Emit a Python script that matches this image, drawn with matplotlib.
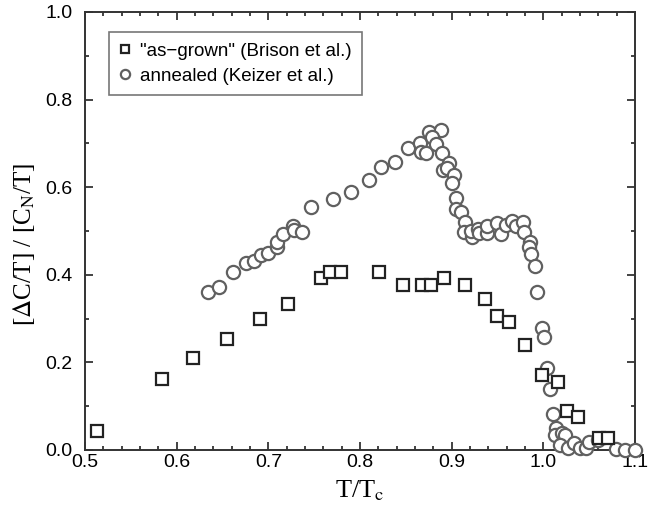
import matplotlib.pyplot as plt
from matplotlib.ticker import MultipleLocator

# as-grown sample (Brison et al.)
grown_t = [0.513, 0.584, 0.618, 0.655, 0.691, 0.722, 0.758, 0.767, 0.779, 0.821,
           0.847, 0.868, 0.878, 0.892, 0.914, 0.936, 0.950, 0.963, 0.980, 0.998,
           1.016, 1.026, 1.038, 1.061, 1.071]
grown_c = [0.043, 0.162, 0.210, 0.253, 0.299, 0.333, 0.393, 0.406, 0.406, 0.406,
           0.377, 0.377, 0.377, 0.393, 0.377, 0.345, 0.306, 0.292, 0.240, 0.171,
           0.155, 0.089, 0.075, 0.027, 0.027]

# annealed sample (Keizer et al.)
ann_t = [0.634, 0.646, 0.661, 0.676, 0.684, 0.692, 0.700, 0.709, 0.709, 0.716,
         0.727, 0.728, 0.737, 0.747, 0.770, 0.790, 0.810, 0.823, 0.838, 0.852,
         0.866, 0.867, 0.872, 0.875, 0.888, 0.879, 0.883, 0.889, 0.897, 0.891,
         0.895, 0.903, 0.900, 0.905, 0.905, 0.910, 0.914, 0.913, 0.922, 0.921,
         0.929, 0.930, 0.939, 0.939, 0.949, 0.954, 0.959, 0.966, 0.970, 0.978,
         0.979, 0.985, 0.984, 0.987, 0.991, 0.993, 0.999, 1.001, 1.004, 1.007,
         1.010, 1.014, 1.013, 1.020, 1.024, 1.018, 1.027, 1.033, 1.040, 1.047,
         1.050, 1.060, 1.079, 1.089, 1.100]
ann_c = [0.361, 0.372, 0.406, 0.427, 0.432, 0.445, 0.450, 0.463, 0.475, 0.493,
         0.511, 0.502, 0.498, 0.555, 0.573, 0.589, 0.616, 0.646, 0.658, 0.689,
         0.701, 0.680, 0.678, 0.726, 0.731, 0.715, 0.699, 0.678, 0.655, 0.639,
         0.644, 0.628, 0.610, 0.575, 0.550, 0.543, 0.521, 0.498, 0.486, 0.500,
         0.505, 0.495, 0.495, 0.511, 0.518, 0.493, 0.514, 0.523, 0.511, 0.521,
         0.498, 0.475, 0.463, 0.447, 0.420, 0.361, 0.279, 0.258, 0.187, 0.139,
         0.082, 0.050, 0.034, 0.039, 0.034, 0.011, 0.005, 0.016, 0.005, 0.005,
         0.018, 0.023, 0.002, 0.000, 0.000]

plt.rcParams['mathtext.fontset'] = 'stix'

fig = plt.figure(figsize=(6.49, 5.12), dpi=100)
ax = fig.add_axes([85 / 649, 62 / 512, 550 / 649, 438 / 512])

ax.plot(ann_t, ann_c, 'o', ms=9.5, mfc='white', mec='#606060', mew=1.6,
        label='annealed (Keizer et al.)', clip_on=False, zorder=3)
ax.plot(grown_t, grown_c, 's', ms=8, mfc='white', mec='#222222', mew=1.6,
        label='"as\u2212grown" (Brison et al.)', clip_on=False, zorder=4)

ax.set_xlim(0.5, 1.1)
ax.set_ylim(0.0, 1.0)
ax.xaxis.set_major_locator(MultipleLocator(0.1))
ax.xaxis.set_minor_locator(MultipleLocator(0.02))
ax.yaxis.set_major_locator(MultipleLocator(0.2))
ax.yaxis.set_minor_locator(MultipleLocator(0.1))
ax.xaxis.set_major_formatter(plt.FuncFormatter(lambda v, p: f'{v:.1f}'))
ax.yaxis.set_major_formatter(plt.FuncFormatter(lambda v, p: f'{v:.1f}'))

ax.tick_params(which='both', direction='in', top=True, right=True,
               color='#222222', width=1.2)
ax.tick_params(which='major', length=6, labelsize=14)
ax.tick_params(axis='x', which='major', pad=3)
ax.tick_params(axis='y', which='major', pad=9)
ax.tick_params(which='minor', length=3)
for lab in ax.get_xticklabels() + ax.get_yticklabels():
    lab.set_family('Liberation Sans')
for sp in ax.spines.values():
    sp.set_linewidth(1.4)
    sp.set_color('#333333')

ax.set_xlabel(r'T/T$_\mathrm{c}$', family='Liberation Serif', fontsize=19)
ax.set_ylabel(r'[$\Delta$C/T] / [C$_\mathrm{N}$/T]', family='Liberation Serif',
              fontsize=18)
ax.xaxis.set_label_coords(0.5, -0.065)
ax.yaxis.set_label_coords(-0.088, 0.47)

handles, labels = ax.get_legend_handles_labels()
leg = ax.legend(handles[::-1], labels[::-1], loc='upper left',
                bbox_to_anchor=(0.043, 0.954), borderaxespad=0,
                fancybox=False, framealpha=1, edgecolor='#777777',
                markerscale=0.7, handlelength=0.6, handletextpad=0.5,
                borderpad=0.55, labelspacing=0.42,
                prop={'family': 'Liberation Sans', 'size': 13.5})
leg.get_frame().set_linewidth(1.2)

fig.savefig('out.png', dpi=100)
